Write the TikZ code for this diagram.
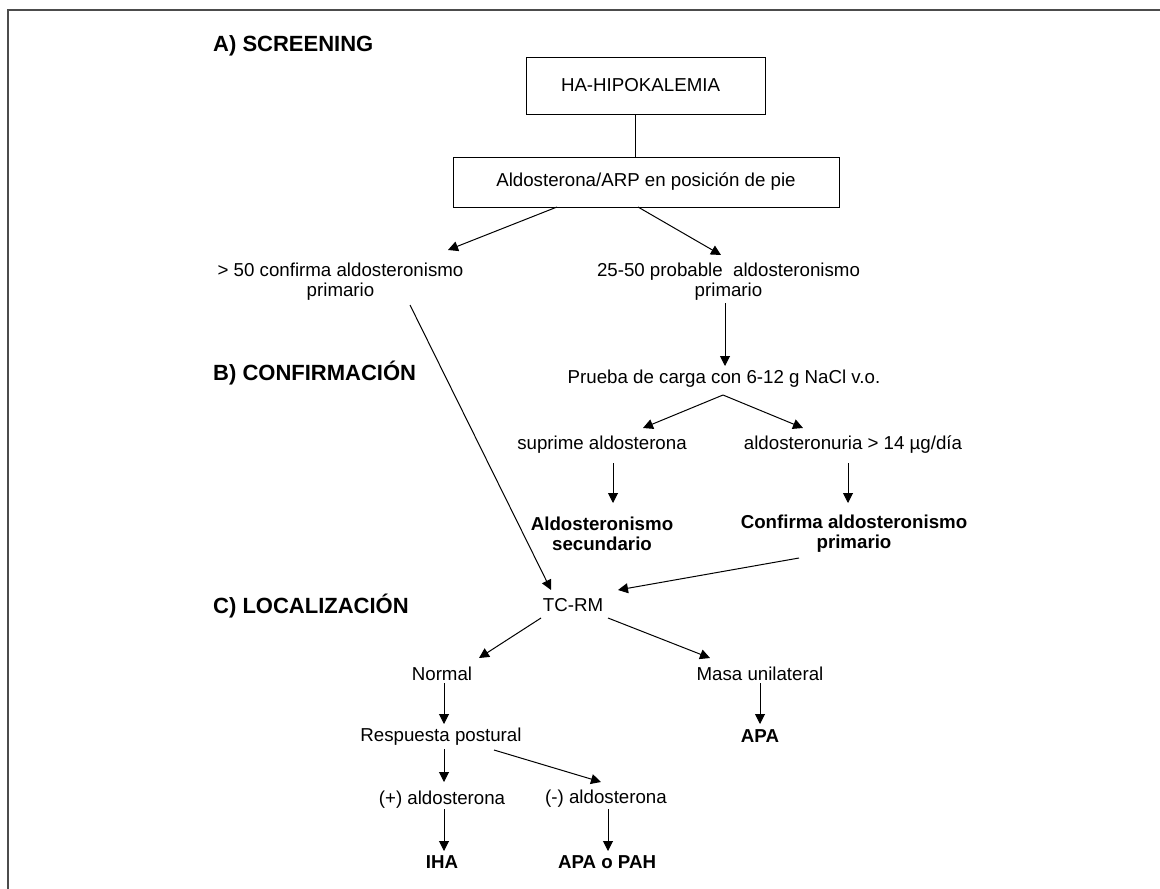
\documentclass[tikz,border=0pt]{standalone}
\usepackage{fontspec}
\setmainfont{Liberation Sans}
\usetikzlibrary{arrows.meta}
\begin{document}
\begin{tikzpicture}[x=1pt,y=-1pt,
  txt/.style={font=\fontsize{18.7}{20}\selectfont, inner sep=0pt, align=center},
  btxt/.style={txt, font=\fontsize{18.7}{20}\selectfont\bfseries},
  head/.style={font=\fontsize{22}{24}\selectfont\bfseries, inner sep=0pt, anchor=west},
  box/.style={draw, line width=1pt, inner sep=0pt, font=\fontsize{18.7}{20}\selectfont},
  conn/.style={line width=1pt},
  arr/.style={conn, -{Triangle[length=10pt,width=10pt]}}]
\useasboundingbox (0,0) rectangle (1160,889);
% frame
\draw[line width=1.3pt, black!70] (8,889) -- (8,10) -- (1160,10);
% headings
\node[head] (hA) at (213,46) {A) SCREENING};
\node[head] (hB) at (213,373) {B) CONFIRMACIÓN};
\node[head] (hC) at (213,606) {C) LOCALIZACIÓN};
% boxes
\node[box, minimum width=239pt, minimum height=57pt] (ha) at (645.5,85.5) {HA-HIPOKALEMIA\hspace*{10pt}};
\node[box, minimum width=386pt, minimum height=50pt] (aldo) at (646,182) {Aldosterona/ARP en posición de pie};
% text nodes
\node[txt] (gt50) at (340.5,282) {> 50 confirma aldosteronismo\\primario};
\node[txt] (p2550) at (728.5,282) {25-50 probable\ \ aldosteronismo\\primario};
\node[txt] (prueba) at (724,379) {Prueba de carga con 6-12 g NaCl v.o.};
\node[txt] (suprime) at (602,445) {suprime aldosterona};
\node[txt] (aldur) at (853,445) {aldosteronuria > 14 µg/día};
\node[btxt] (secund) at (602,534) {Aldosteronismo\\secundario};
\node[btxt] (confprim) at (854,534) {Confirma aldosteronismo\\primario};
\node[txt] (tcrm) at (573,605) {TC-RM};
\node[txt] (normal) at (442,674) {Normal};
\node[txt] (masa) at (760,674) {Masa unilateral};
\node[txt] (resp) at (441,737) {Respuesta postural};
\node[btxt] (apa) at (760,736) {APA};
\node[txt] (plus) at (442,800) {(+) aldosterona};
\node[txt] (minus) at (606,799) {(-) aldosterona};
\node[btxt] (iha) at (442,862) {IHA};
\node[btxt] (apapah) at (607,862) {APA o PAH};
% connectors
\draw[conn] ([shift={(-10.5,28.5)}]ha.center) -- ([shift={(-11,-25)}]aldo.center);
\draw[arr] ([shift={(-89,25)}]aldo.center) -- ([shift={(107.5,-32)}]gt50.center);
\draw[arr] ([shift={(-8,25)}]aldo.center) -- ([shift={(-7.5,-27)}]p2550.center);
\draw[arr] ([shift={(69.5,23)}]gt50.center) -- ([shift={(-22,-15)}]tcrm.center);
\draw[arr] ([shift={(-3.5,21)}]p2550.center) -- ([shift={(1,-13)}]prueba.center);
\draw[arr] ([shift={(-1,16)}]prueba.center) -- ([shift={(41,-17)}]suprime.center);
\draw[arr] ([shift={(-1,16)}]prueba.center) -- ([shift={(-50,-17)}]aldur.center);
\draw[arr] ([shift={(11,18)}]suprime.center) -- ([shift={(11,-31)}]secund.center);
\draw[arr] ([shift={(-5,18)}]aldur.center) -- ([shift={(-6,-31)}]confprim.center);
\draw[arr] ([shift={(-55,24)}]confprim.center) -- ([shift={(45,-15)}]tcrm.center);
\draw[arr] ([shift={(-32,13)}]tcrm.center) -- ([shift={(37,-16)}]normal.center);
\draw[arr] ([shift={(35,13)}]tcrm.center) -- ([shift={(-50,-16)}]masa.center);
\draw[arr] ([shift={(2,9)}]normal.center) -- ([shift={(3,-13)}]resp.center);
\draw[arr] ([shift={(0,9)}]masa.center) -- ([shift={(0,-12)}]apa.center);
\draw[arr] ([shift={(3,12)}]resp.center) -- ([shift={(2,-18)}]plus.center);
\draw[arr] ([shift={(53,13)}]resp.center) -- ([shift={(-5,-17)}]minus.center);
\draw[arr] ([shift={(2,9)}]plus.center) -- ([shift={(2,-11)}]iha.center);
\draw[arr] ([shift={(2,10)}]minus.center) -- ([shift={(1,-11)}]apapah.center);
\end{tikzpicture}
\end{document}
